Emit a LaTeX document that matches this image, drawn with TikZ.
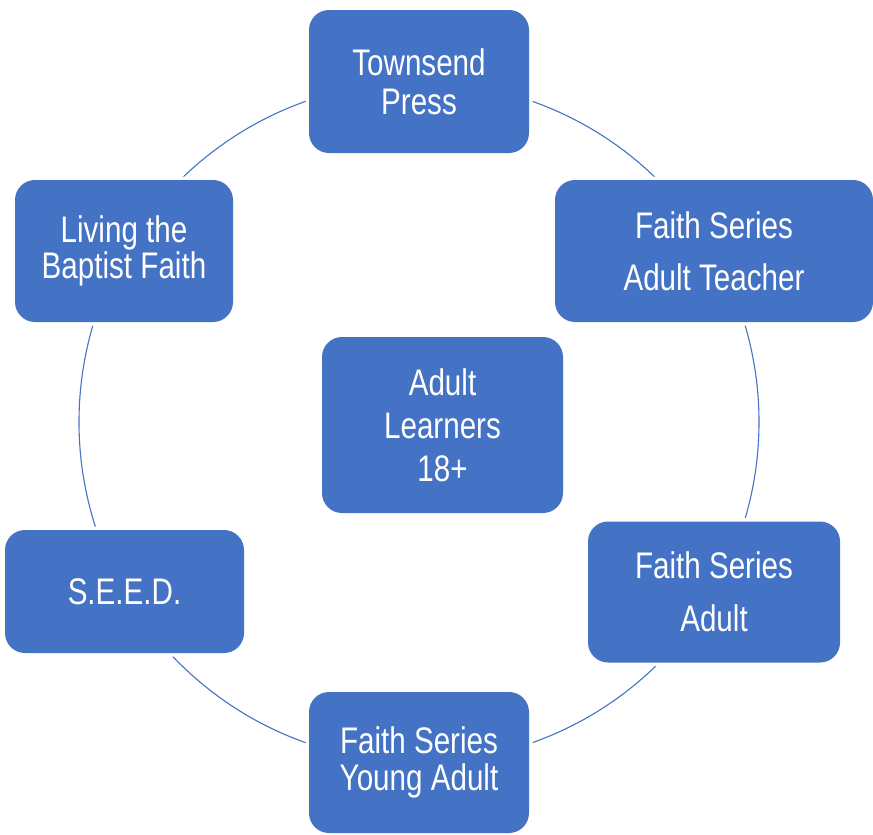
\documentclass[tikz,border=0pt]{standalone}
\usepackage{fontspec}
\setmainfont[FakeStretch=0.8]{Liberation Sans}
\definecolor{boxblue}{HTML}{4472C4}
\begin{document}
\begin{tikzpicture}[x=1pt,y=-1pt,
  ring/.style={draw=boxblue, line width=1.1pt},
  box/.style={fill=boxblue, rounded corners=20pt, inner sep=0pt, text=white,
    align=center, preaction={draw=white, line width=7pt}},
  tsz/.style={font=\fontsize{37}{#1}\selectfont}]
\useasboundingbox (0,0) rectangle (873,835);
\coordinate (ctr) at (419,422);
\draw[ring] (ctr) circle[radius=340];
\node[box, minimum width=220, minimum height=143, tsz=38.7] (tp) at (419,81.5) {Townsend\\Press};
\node[box, minimum width=318, minimum height=142, tsz=52] (fsat) at (714,251) {Faith Series\\Adult Teacher};
\node[box, minimum width=252, minimum height=141, tsz=53] (fsa) at (714,592) {Faith Series\\Adult};
\node[box, minimum width=220, minimum height=141, tsz=37] (fsya) at (419,762.5) {Faith Series\\Young Adult};
\node[box, minimum width=239, minimum height=123, tsz=38] (seed) at (124.5,591.5) {S.E.E.D.};
\node[box, minimum width=218, minimum height=142, tsz=36.5] (ltbf) at (124,251) {Living the\\Baptist Faith};
\node[box, minimum width=241, minimum height=176, tsz=43] (al) at (442.5,425) {Adult\\Learners\\18+};
\end{tikzpicture}
\end{document}
